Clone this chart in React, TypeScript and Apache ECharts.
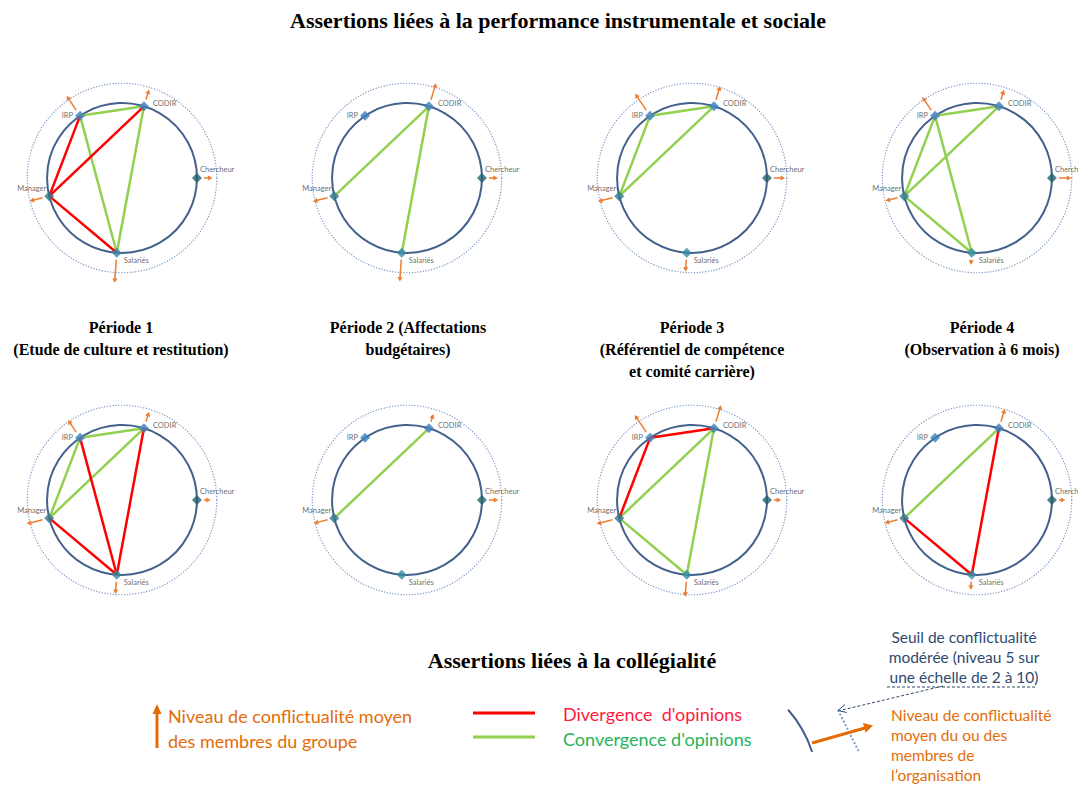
import React, { useEffect, useRef } from 'react';
import * as echarts from 'echarts';

// ---------- data ----------
const NODES = ['IRP', 'CODIR', 'Chercheur', 'Manager', 'Salariés'];
// angular position of each actor on the circle (degrees, counter-clockwise from 3 o'clock)
const NODE_ANGLES = [124, 73, 0, 194, 266];

const TITLE_PERF = 'Assertions liées à la performance instrumentale et sociale';
const TITLE_COLL = 'Assertions liées à la collégialité';
const PERIOD_LABELS = [
  'Période 1\n(Etude de culture et restitution)',
  'Période 2 (Affectations\nbudgétaires)',
  'Période 3\n(Référentiel de compétence\net comité carrière)',
  'Période 4\n(Observation à 6 mois)',
];

// mean conflict level (scale 2..10) per actor, order of NODES; null = no arrow
const LEVELS_PERF_P1 = [6.0, 4.5, 4.0, 5.1, 7.4];
const LEVELS_PERF_P2 = [null, 6.0, 4.1, 5.5, 7.1];
const LEVELS_PERF_P3 = [6.6, 5.3, 4.6, 5.5, 4.8];
const LEVELS_PERF_P4 = [5.7, 4.4, 4.9, 4.9, 3.2];
const LEVELS_COLL_P1 = [5.4, 4.4, 3.6, 5.8, 4.9];
const LEVELS_COLL_P2 = [null, 3.9, 4.2, 5.3, null];
const LEVELS_COLL_P3 = [6.8, 6.0, 3.7, 5.8, 5.5];
const LEVELS_COLL_P4 = [null, 5.1, 3.5, 5.1, 3.9];

// divergence (red) / convergence (green) links
const DIV_PERF_P1 = [['IRP', 'Manager'], ['Manager', 'CODIR'], ['Manager', 'Salariés']];
const CONV_PERF_P1 = [['IRP', 'CODIR'], ['IRP', 'Salariés'], ['CODIR', 'Salariés']];
const DIV_PERF_P2: string[][] = [];
const CONV_PERF_P2 = [['CODIR', 'Manager'], ['CODIR', 'Salariés']];
const DIV_PERF_P3: string[][] = [];
const CONV_PERF_P3 = [['IRP', 'CODIR'], ['IRP', 'Manager'], ['CODIR', 'Manager']];
const DIV_PERF_P4: string[][] = [];
const CONV_PERF_P4 = [['IRP', 'CODIR'], ['IRP', 'Manager'], ['IRP', 'Salariés'], ['CODIR', 'Manager'], ['Manager', 'Salariés']];
const DIV_COLL_P1 = [['IRP', 'Salariés'], ['CODIR', 'Salariés'], ['Manager', 'Salariés']];
const CONV_COLL_P1 = [['IRP', 'CODIR'], ['IRP', 'Manager'], ['CODIR', 'Manager']];
const DIV_COLL_P2: string[][] = [];
const CONV_COLL_P2 = [['CODIR', 'Manager']];
const DIV_COLL_P3 = [['IRP', 'CODIR'], ['IRP', 'Manager']];
const CONV_COLL_P3 = [['CODIR', 'Manager'], ['CODIR', 'Salariés'], ['Manager', 'Salariés']];
const DIV_COLL_P4 = [['CODIR', 'Salariés'], ['Manager', 'Salariés']];
const CONV_COLL_P4 = [['CODIR', 'Manager']];

// ---------- scale (radial axis in conflict-level units) ----------
const R_MIN = -17;
const R_MAX = 9;
const NODE_LEVEL = 0.4; // actors circle
const ARROW_BASE = 2; // bottom of the 2..10 scale
const THRESHOLD = 5; // moderate conflict threshold (dotted circle)

// ---------- layout / style ----------
const W = 1078;
const H = 785;
const COL_X = [122, 407, 692, 977];
const ROW_Y = [178, 500];
const POLAR_PX = 112;
const RED = '#ff0000';
const GREEN = '#92d050';
const ORANGE = '#ed7d31';
const ORANGE_TXT = '#e36c09';
const CIRCLE = '#44618c';
const DOTS = '#7b98c4';
const NAVY = '#2f4a6e';

const px = (lvl: number) => ((lvl - R_MIN) / (R_MAX - R_MIN)) * POLAR_PX;

const PANELS = [
  { levels: LEVELS_PERF_P1, div: DIV_PERF_P1, conv: CONV_PERF_P1 },
  { levels: LEVELS_PERF_P2, div: DIV_PERF_P2, conv: CONV_PERF_P2 },
  { levels: LEVELS_PERF_P3, div: DIV_PERF_P3, conv: CONV_PERF_P3 },
  { levels: LEVELS_PERF_P4, div: DIV_PERF_P4, conv: CONV_PERF_P4 },
  { levels: LEVELS_COLL_P1, div: DIV_COLL_P1, conv: CONV_COLL_P1 },
  { levels: LEVELS_COLL_P2, div: DIV_COLL_P2, conv: CONV_COLL_P2 },
  { levels: LEVELS_COLL_P3, div: DIV_COLL_P3, conv: CONV_COLL_P3 },
  { levels: LEVELS_COLL_P4, div: DIV_COLL_P4, conv: CONV_COLL_P4 },
];

const NODE_COLORS: Record<string, string> = {
  IRP: '#3f7fbf',
  CODIR: '#3f7fbf',
  Chercheur: '#24606f',
  Manager: '#2f7791',
  'Salariés': '#3589a3',
};

function nodeLabel(name: string) {
  const base = { show: true, fontSize: 7.5, color: '#444', fontFamily: 'Lato' };
  switch (name) {
    case 'IRP':
      return { ...base, position: 'left', distance: 2 };
    case 'CODIR':
      return { ...base, position: 'right', distance: 4, offset: [0, -3] };
    case 'Chercheur':
      return { ...base, position: 'right', distance: 0, offset: [-2, -9] };
    case 'Manager':
      return { ...base, position: 'left', distance: -2, offset: [0, -8] };
    default:
      return { ...base, position: 'right', distance: 2, offset: [0, 8] };
  }
}

const angleOf = (name: string) => NODE_ANGLES[NODES.indexOf(name)];

function buildOption() {
  const polar: any[] = [];
  const angleAxis: any[] = [];
  const radiusAxis: any[] = [];
  const series: any[] = [];

  PANELS.forEach((p, i) => {
    const center = [COL_X[i % 4], ROW_Y[Math.floor(i / 4)]];
    const radii = [POLAR_PX, px(NODE_LEVEL), px(THRESHOLD)];
    radii.forEach((r, k) => {
      const idx = i * 3 + k;
      polar.push({ center, radius: r });
      angleAxis.push({
        polarIndex: idx,
        type: 'value',
        min: 0,
        max: 360,
        startAngle: 0,
        clockwise: false,
        axisLine: {
          show: k > 0,
          lineStyle: k === 1 ? { color: CIRCLE, width: 2 } : { color: DOTS, width: 1.2, type: [1.2, 1.6] },
        },
        axisTick: { show: false },
        axisLabel: { show: false },
        splitLine: { show: false },
      });
      radiusAxis.push({
        polarIndex: idx,
        type: 'value',
        min: R_MIN,
        max: R_MAX,
        axisLine: { show: false },
        axisTick: { show: false },
        axisLabel: { show: false },
        splitLine: { show: false },
      });
    });
    const pi = i * 3;
    const addEdges = (edges: string[][], color: string, z: number) => {
      edges.forEach((e) => {
        series.push({
          type: 'line',
          coordinateSystem: 'polar',
          polarIndex: pi,
          data: [
            [NODE_LEVEL, angleOf(e[0])],
            [NODE_LEVEL, angleOf(e[1])],
          ],
          symbol: 'none',
          clip: false,
          silent: true,
          z,
          lineStyle: { color, width: 2.5 },
        });
      });
    };
    addEdges(p.conv, GREEN, 3);
    addEdges(p.div, RED, 4);

    // conflict level arrows
    series.push({
      type: 'custom',
      coordinateSystem: 'polar',
      polarIndex: pi,
      silent: true,
      z: 2,
      dimensions: ['radius', 'angle'],
      encode: { radius: 0, angle: 1 },
      data: p.levels
        .map((lvl, j) => (lvl == null ? null : [lvl, NODE_ANGLES[j]]))
        .filter((d) => d != null),
      renderItem: (params: any, api: any) => {
        const tip = api.value(0);
        const ang = api.value(1);
        const p0 = api.coord([ARROW_BASE, ang]);
        const p1 = api.coord([tip, ang]);
        const dx = p1[0] - p0[0];
        const dy = p1[1] - p0[1];
        const len = Math.hypot(dx, dy) || 1;
        const ux = dx / len;
        const uy = dy / len;
        const nx = -uy;
        const ny = ux;
        const hl = 4.5;
        const hw = 2.6;
        const bx = p1[0] - ux * hl;
        const by = p1[1] - uy * hl;
        return {
          type: 'group',
          children: [
            {
              type: 'line',
              shape: { x1: p0[0], y1: p0[1], x2: bx + ux, y2: by + uy },
              style: { stroke: ORANGE, lineWidth: 1.5 },
            },
            {
              type: 'polygon',
              shape: {
                points: [
                  [p1[0], p1[1]],
                  [bx + nx * hw, by + ny * hw],
                  [bx - nx * hw, by - ny * hw],
                ],
              },
              style: { fill: ORANGE },
            },
          ],
        };
      },
    });

    // actors
    series.push({
      type: 'scatter',
      coordinateSystem: 'polar',
      polarIndex: pi,
      symbol: 'diamond',
      symbolSize: 10,
      silent: true,
      z: 6,
      data: NODES.map((n, j) => ({
        name: n,
        value: [NODE_LEVEL, NODE_ANGLES[j]],
        itemStyle: { color: NODE_COLORS[n] },
        label: { ...nodeLabel(n), formatter: n },
      })),
    });
  });

  const serif = '"Liberation Serif", "Times New Roman", serif';
  const graphic: any[] = [
    {
      type: 'text',
      x: 558,
      y: 20,
      style: { text: TITLE_PERF, font: `bold 22px ${serif}`, fill: '#000', align: 'center', verticalAlign: 'middle' },
    },
    {
      type: 'text',
      x: 572,
      y: 660,
      style: { text: TITLE_COLL, font: `bold 22px ${serif}`, fill: '#000', align: 'center', verticalAlign: 'middle' },
    },
    ...PERIOD_LABELS.map((t, i) => ({
      type: 'text',
      x: [121, 408, 692, 982][i],
      y: 316,
      style: { text: t, font: `bold 16px ${serif}`, fill: '#000', align: 'center', verticalAlign: 'top', lineHeight: 22 },
    })),
    // legend: arrow
    { type: 'line', shape: { x1: 157, y1: 748, x2: 157, y2: 712 }, style: { stroke: ORANGE_TXT, lineWidth: 3 } },
    { type: 'polygon', shape: { points: [[157, 704], [152.5, 714], [161.5, 714]] }, style: { fill: ORANGE_TXT } },
    {
      type: 'text',
      x: 168,
      y: 703,
      style: {
        text: 'Niveau de conflictualité moyen\ndes membres du groupe',
        font: '18px Lato',
        fill: ORANGE_TXT,
        align: 'left',
        verticalAlign: 'top',
        lineHeight: 25,
      },
    },
    { type: 'line', shape: { x1: 473, y1: 713, x2: 535, y2: 713 }, style: { stroke: RED, lineWidth: 3 } },
    { type: 'line', shape: { x1: 473, y1: 737, x2: 535, y2: 737 }, style: { stroke: GREEN, lineWidth: 3 } },
    {
      type: 'text',
      x: 563,
      y: 714,
      style: { text: "Divergence  d'opinions", font: '18px Lato', fill: '#ff1a3c', align: 'left', verticalAlign: 'middle' },
    },
    {
      type: 'text',
      x: 563,
      y: 739,
      style: { text: "Convergence d'opinions", font: '18px Lato', fill: '#1fb45a', align: 'left', verticalAlign: 'middle' },
    },
    // explanation sketch
    {
      type: 'arc',
      shape: { cx: 698, cy: 789, r: 120, startAngle: -0.721, endAngle: -0.314, clockwise: true },
      style: { stroke: CIRCLE, lineWidth: 2, fill: null },
    },
    { type: 'line', shape: { x1: 838, y1: 710, x2: 859, y2: 752 }, style: { stroke: DOTS, lineWidth: 2, lineDash: [2, 2] } },
    { type: 'line', shape: { x1: 812, y1: 743, x2: 865, y2: 728 }, style: { stroke: ORANGE_TXT, lineWidth: 3 } },
    {
      type: 'polygon',
      shape: { points: [[873, 725.5], [865.6, 732.7], [863, 723.1]] },
      style: { fill: ORANGE_TXT },
    },
    { type: 'line', shape: { x1: 943, y1: 686, x2: 840, y2: 710.5 }, style: { stroke: NAVY, lineWidth: 1, lineDash: [3, 2] } },
    {
      type: 'polyline',
      shape: { points: [[846.7, 712.5], [838, 710.5], [845, 704.5]] },
      style: { stroke: NAVY, lineWidth: 1, fill: null },
    },
    { type: 'line', shape: { x1: 887, y1: 687, x2: 1037, y2: 687 }, style: { stroke: NAVY, lineWidth: 1, lineDash: [3, 2] } },
    {
      type: 'text',
      x: 964,
      y: 627,
      style: {
        text: 'Seuil de conflictualité\nmodérée (niveau 5 sur\nune échelle de 2 à 10)',
        font: '15.5px Lato',
        fill: NAVY,
        align: 'center',
        verticalAlign: 'top',
        lineHeight: 20,
      },
    },
    {
      type: 'text',
      x: 891,
      y: 705,
      style: {
        text: 'Niveau de conflictualité\nmoyen du ou des\nmembres de\nl’organisation',
        font: '15.5px Lato',
        fill: ORANGE_TXT,
        align: 'left',
        verticalAlign: 'top',
        lineHeight: 20,
      },
    },
  ];

  return {
    animation: false,
    backgroundColor: '#ffffff',
    polar,
    angleAxis,
    radiusAxis,
    series,
    graphic,
  };
}

export default function App() {
  const ref = useRef<HTMLDivElement>(null);
  useEffect(() => {
    if (!ref.current) return;
    const chart = echarts.init(ref.current, undefined, { renderer: 'svg', width: W, height: H });
    chart.setOption(buildOption() as any);
    return () => chart.dispose();
  }, []);
  return (
    <div
      ref={ref}
      style={{ position: 'fixed', left: 0, top: 0, width: W, height: H, background: '#fff' }}
    />
  );
}
